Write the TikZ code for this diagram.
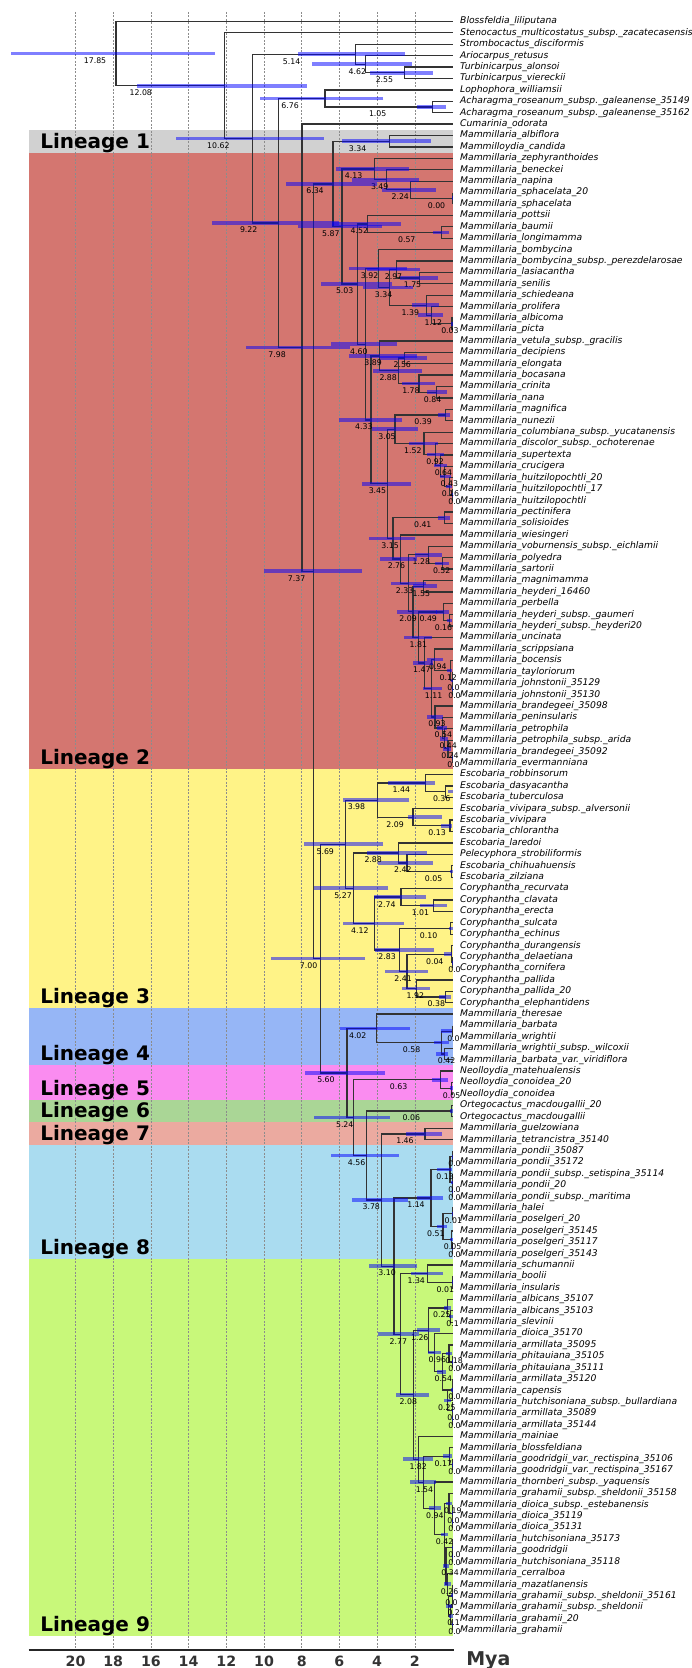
\documentclass[tikz,border=0pt]{standalone}
\usepackage{fontspec}
\setmainfont{DejaVu Sans}[ItalicFont={DejaVu Sans Oblique},BoldFont={DejaVu Sans Bold}]
\usetikzlibrary{calc}
\pgfdeclarelayer{front}
\pgfsetlayers{main,front}
\definecolor{linA}{RGB}{209,209,209}
\definecolor{linB}{RGB}{212,118,112}
\definecolor{linC}{RGB}{255,243,135}
\definecolor{linD}{RGB}{150,182,246}
\definecolor{linE}{RGB}{250,140,240}
\definecolor{linF}{RGB}{170,214,150}
\definecolor{linG}{RGB}{235,170,160}
\definecolor{linH}{RGB}{170,220,240}
\definecolor{linI}{RGB}{200,248,122}
\tikzset{
  branch/.style={draw=black!80, line width=1.3pt},
  hpd/.style={draw=blue, line width=3.6pt, opacity=0.5},
  age/.style={font=\fontsize{7.8}{9}\selectfont, inner sep=0pt, yshift=-7pt},
  tip/.style={anchor=west, inner sep=0pt, xshift=7.5pt, font=\fontsize{9.2}{11}\selectfont\itshape},
  gridline/.style={draw=black!45, line width=0.6pt, dash pattern=on 2pt off 1.5pt},
  lineage/.style={anchor=base west, inner sep=0pt, font=\fontsize{20}{24}\selectfont\bfseries},
  ticklab/.style={anchor=base, inner sep=0pt, text=black!80, font=\fontsize{14.2}{16}\selectfont\bfseries}
}
% name, age, upper child, lower child, hpd young, hpd old, label shift
\newcommand\clade[7]{%
  \coordinate (#1m) at ($(#3)!.5!(#4)$);
  \coordinate (#1) at (#2,0 |- #1m);
  \draw[branch] (#3) -| (#1) (#4) -| (#1);
  \begin{pgfonlayer}{front}
    \draw[hpd] (#5,0 |- #1) -- (#6,0 |- #1);
    \node[age, xshift=#7pt] (#1lab) at (#1) {#2};
  \end{pgfonlayer}}

\begin{document}
\begin{tikzpicture}[x=1pt,y=-1pt]
\useasboundingbox (0,0) rectangle (691,1668);
\begin{scope}[shift={(452.5,10)}, x=-18.85pt, y=-11.41pt]
  \fill[linA] (22.49,10.5) rectangle (-0.03,12.5);
  \fill[linB] (22.49,12.5) rectangle (-0.03,66.5);
  \fill[linC] (22.49,66.5) rectangle (-0.03,87.5);
  \fill[linD] (22.49,87.5) rectangle (-0.03,92.5);
  \fill[linE] (22.49,92.5) rectangle (-0.03,95.5);
  \fill[linF] (22.49,95.5) rectangle (-0.03,97.5);
  \fill[linG] (22.49,97.5) rectangle (-0.03,99.5);
  \fill[linH] (22.49,99.5) rectangle (-0.03,109.5);
  \fill[linI] (22.49,109.5) rectangle (-0.03,142.5);

  \foreach \a in {2,4,...,20} \draw[gridline] (\a,0.17) -- (\a,143.73);
  \draw[line width=2pt, black!85] (22.49,143.73) -- (-0.08,143.73);
  \foreach \a in {2,4,...,20} \node[ticklab] (tick\a) at (\a,145.18) {\a};
  \node[ticklab, anchor=base west, font=\fontsize{19}{22}\selectfont\bfseries] (mya) at (-0.72,145.1) {Mya};

  \foreach \k/\r in {1/12,2/66,3/87,4/92,5/95,6/97,7/99,8/109,9/142}
    \node[lineage] (lin\k) at (21.88,\r+0.1) {Lineage \k};

  \foreach \name [count=\i] in {Blossfeldia\_liliputana,
    Stenocactus\_multicostatus\_subsp.\_zacatecasensis, Strombocactus\_disciformis,
    Ariocarpus\_retusus, Turbinicarpus\_alonsoi, Turbinicarpus\_viereckii,
    Lophophora\_williamsii, Acharagma\_roseanum\_subsp.\_galeanense\_35149,
    Acharagma\_roseanum\_subsp.\_galeanense\_35162, Cumarinia\_odorata,
    Mammillaria\_albiflora, Mammilloydia\_candida, Mammillaria\_zephyranthoides,
    Mammillaria\_beneckei, Mammillaria\_napina, Mammillaria\_sphacelata\_20,
    Mammillaria\_sphacelata, Mammillaria\_pottsii, Mammillaria\_baumii,
    Mammillaria\_longimamma, Mammillaria\_bombycina,
    Mammillaria\_bombycina\_subsp.\_perezdelarosae, Mammillaria\_lasiacantha,
    Mammillaria\_senilis, Mammillaria\_schiedeana, Mammillaria\_prolifera,
    Mammillaria\_albicoma, Mammillaria\_picta, Mammillaria\_vetula\_subsp.\_gracilis,
    Mammillaria\_decipiens, Mammillaria\_elongata, Mammillaria\_bocasana,
    Mammillaria\_crinita, Mammillaria\_nana, Mammillaria\_magnifica,
    Mammillaria\_nunezii, Mammillaria\_columbiana\_subsp.\_yucatanensis,
    Mammillaria\_discolor\_subsp.\_ochoterenae, Mammillaria\_supertexta,
    Mammillaria\_crucigera, Mammillaria\_huitzilopochtli\_20,
    Mammillaria\_huitzilopochtli\_17, Mammillaria\_huitzilopochtli,
    Mammillaria\_pectinifera, Mammillaria\_solisioides, Mammillaria\_wiesingeri,
    Mammillaria\_voburnensis\_subsp.\_eichlamii, Mammillaria\_polyedra,
    Mammillaria\_sartorii, Mammillaria\_magnimamma, Mammillaria\_heyderi\_16460,
    Mammillaria\_perbella, Mammillaria\_heyderi\_subsp.\_gaumeri,
    Mammillaria\_heyderi\_subsp.\_heyderi20, Mammillaria\_uncinata,
    Mammillaria\_scrippsiana, Mammillaria\_bocensis, Mammillaria\_tayloriorum,
    Mammillaria\_johnstonii\_35129, Mammillaria\_johnstonii\_35130,
    Mammillaria\_brandegeei\_35098, Mammillaria\_peninsularis, Mammillaria\_petrophila,
    Mammillaria\_petrophila\_subsp.\_arida, Mammillaria\_brandegeei\_35092,
    Mammillaria\_evermanniana, Escobaria\_robbinsorum, Escobaria\_dasyacantha,
    Escobaria\_tuberculosa, Escobaria\_vivipara\_subsp.\_alversonii, Escobaria\_vivipara,
    Escobaria\_chlorantha, Escobaria\_laredoi, Pelecyphora\_strobiliformis,
    Escobaria\_chihuahuensis, Escobaria\_zilziana, Coryphantha\_recurvata,
    Coryphantha\_clavata, Coryphantha\_erecta, Coryphantha\_sulcata, Coryphantha\_echinus,
    Coryphantha\_durangensis, Coryphantha\_delaetiana, Coryphantha\_cornifera,
    Coryphantha\_pallida, Coryphantha\_pallida\_20, Coryphantha\_elephantidens,
    Mammillaria\_theresae, Mammillaria\_barbata, Mammillaria\_wrightii,
    Mammillaria\_wrightii\_subsp.\_wilcoxii, Mammillaria\_barbata\_var.\_viridiflora,
    Neolloydia\_matehualensis, Neolloydia\_conoidea\_20, Neolloydia\_conoidea,
    Ortegocactus\_macdougallii\_20, Ortegocactus\_macdougallii, Mammillaria\_guelzowiana,
    Mammillaria\_tetrancistra\_35140, Mammillaria\_pondii\_35087, Mammillaria\_pondii\_35172,
    Mammillaria\_pondii\_subsp.\_setispina\_35114, Mammillaria\_pondii\_20,
    Mammillaria\_pondii\_subsp.\_maritima, Mammillaria\_halei, Mammillaria\_poselgeri\_20,
    Mammillaria\_poselgeri\_35145, Mammillaria\_poselgeri\_35117,
    Mammillaria\_poselgeri\_35143, Mammillaria\_schumannii, Mammillaria\_boolii,
    Mammillaria\_insularis, Mammillaria\_albicans\_35107, Mammillaria\_albicans\_35103,
    Mammillaria\_slevinii, Mammillaria\_dioica\_35170, Mammillaria\_armillata\_35095,
    Mammillaria\_phitauiana\_35105, Mammillaria\_phitauiana\_35111,
    Mammillaria\_armillata\_35120, Mammillaria\_capensis,
    Mammillaria\_hutchisoniana\_subsp.\_bullardiana, Mammillaria\_armillata\_35089,
    Mammillaria\_armillata\_35144, Mammillaria\_mainiae, Mammillaria\_blossfeldiana,
    Mammillaria\_goodridgii\_var.\_rectispina\_35106,
    Mammillaria\_goodridgii\_var.\_rectispina\_35167,
    Mammillaria\_thornberi\_subsp.\_yaquensis,
    Mammillaria\_grahamii\_subsp.\_sheldonii\_35158,
    Mammillaria\_dioica\_subsp.\_estebanensis, Mammillaria\_dioica\_35119,
    Mammillaria\_dioica\_35131, Mammillaria\_hutchisoniana\_35173, Mammillaria\_goodridgii,
    Mammillaria\_hutchisoniana\_35118, Mammillaria\_cerralboa, Mammillaria\_mazatlanensis,
    Mammillaria\_grahamii\_subsp.\_sheldonii\_35161,
    Mammillaria\_grahamii\_subsp.\_sheldonii, Mammillaria\_grahamii\_20,
    Mammillaria\_grahamii}
    {\coordinate (t\i) at (0,\i);
     \node[tip] (lab\i) at (t\i) {\name};}

  % outgroups
  \clade{cA}{1.05}{t8}{t9}{0.34}{1.91}{-55}
  \clade{cB}{6.76}{t7}{cA}{3.67}{10.21}{-35}
  \clade{cC}{2.55}{t5}{t6}{1.04}{4.36}{-20}
  \clade{cD}{4.62}{t4}{cC}{2.15}{7.45}{-8}
  \clade{cE}{5.14}{t3}{cD}{2.54}{8.18}{-64}
  \clade{cF}{3.34}{t11}{t12}{1.16}{5.88}{-32}

  % lineage 2
  \clade{m0}{0.00}{t16}{t17}{0}{0.05}{-16}
  \clade{m1}{2.24}{t15}{m0}{0.88}{3.76}{-10}
  \clade{m2}{3.49}{t14}{m1}{1.79}{5.31}{-7}
  \clade{m3}{4.13}{t13}{m2}{2.29}{6.18}{-21}
  \clade{m4}{0.57}{t19}{t20}{0.17}{1.02}{-35}
  \clade{m5}{4.52}{t18}{m4}{2.75}{6.41}{-8}
  \clade{m6}{1.75}{t23}{t24}{0.75}{2.78}{-7}
  \clade{m7}{2.97}{t22}{m6}{1.72}{4.55}{-3}
  \clade{m8}{0.03}{t27}{t28}{0}{0.1}{-2}
  \clade{m9}{1.12}{t26}{m8}{0.49}{1.81}{2}
  \clade{m10}{1.39}{t25}{m9}{0.70}{2.13}{-16}
  \clade{m11}{3.34}{m7}{m10}{2.08}{4.77}{-6}
  \clade{m12}{3.92}{t21}{m11}{2.43}{5.49}{-9}
  \clade{m13}{0.84}{t33}{t34}{0.31}{1.37}{-4}
  \clade{m14}{1.78}{t32}{m13}{0.93}{2.7}{-8}
  \clade{m15}{2.56}{t30}{t31}{1.37}{3.85}{-2}
  \clade{m16}{2.88}{m15}{m14}{1.64}{4.2}{-10}
  \clade{m17}{3.89}{t29}{m16}{1.87}{5.49}{-6}
  \clade{m18}{0.39}{t35}{t36}{0.13}{0.75}{-22}
  \clade{m19}{0.0}{t42}{t43}{0}{0.05}{2}
  \clade{m20}{0.16}{t41}{m19}{0.02}{0.35}{1}
  \clade{m21}{0.43}{t40}{m20}{0.1}{0.66}{5}
  \clade{m22}{0.64}{t39}{m21}{0.31}{0.98}{3}
  \clade{m23}{0.92}{t38}{m22}{0.45}{1.37}{0}
  \clade{m24}{1.52}{t37}{m23}{0.79}{2.29}{-11}
  \clade{m25}{3.05}{m18}{m24}{1.85}{4.25}{-8}
  \clade{m26}{0.41}{t44}{t45}{0.13}{0.75}{-22}
  \clade{m27}{0.52}{t48}{t49}{0.17}{0.93}{-1}
  \clade{m28}{1.28}{t47}{m27}{0.57}{1.99}{-7}
  \clade{m29}{1.55}{t50}{t51}{0.8}{2.08}{-2}
  \clade{m30}{0.16}{t53}{t54}{0.05}{0.3}{-6}
  \clade{m31}{0.49}{t52}{m30}{0.2}{0.9}{-15}
  \clade{m32}{0.0}{t59}{t60}{0}{0.05}{2}
  \clade{m33}{0.0}{t58}{m32}{0}{0.06}{1}
  \clade{m34}{0.12}{t57}{m33}{0.02}{0.3}{-2}
  \clade{m35}{0.94}{t56}{m34}{0.49}{1.37}{3}
  \clade{m36}{0.0}{t65}{t66}{0}{0.05}{1}
  \clade{m37}{0.24}{t64}{m36}{0.1}{0.49}{2}
  \clade{m38}{0.44}{t63}{m37}{0.22}{0.66}{4}
  \clade{m39}{0.54}{t62}{m38}{0.31}{0.84}{1}
  \clade{m40}{0.93}{t61}{m39}{0.49}{1.34}{2}
  \clade{m41}{1.11}{m35}{m40}{0.57}{1.58}{2}
  \clade{m42}{1.47}{t55}{m41}{1.02}{2.08}{-3}
  \clade{m43}{1.81}{m31}{m42}{1.1}{2.57}{0}
  \clade{m44}{2.09}{m29}{m43}{0.8}{2.96}{-5}
  \clade{m45}{2.33}{m28}{m44}{1.42}{3.26}{-4}
  \clade{m46}{2.76}{t46}{m45}{1.87}{3.85}{-4}
  \clade{m47}{3.15}{m26}{m46}{1.99}{4.43}{-3}
  \clade{m48}{3.45}{m25}{m47}{2.2}{4.82}{-10}
  \clade{m49}{4.33}{m17}{m48}{2.7}{6.02}{-7}
  \clade{m50}{4.60}{m12}{m49}{2.96}{6.44}{-7}
  \clade{m51}{5.03}{m5}{m50}{3.19}{7.0}{-13}
  \clade{m52}{5.87}{m3}{m51}{3.76}{8.18}{-11}
  \clade{cG}{6.34}{cF}{m52}{4.02}{8.83}{-18}

  % lineage 3
  \clade{e1}{0.36}{t68}{t69}{0}{0.22}{-4}
  \clade{e2}{1.44}{t67}{e1}{0.93}{3.4}{-24}
  \clade{e3}{0.13}{t71}{t72}{0.02}{0.6}{-13}
  \clade{e4}{2.09}{t70}{e3}{0.57}{2.38}{-18}
  \clade{e5}{3.98}{e2}{e4}{2.29}{5.79}{-21}
  \clade{e6}{0.05}{t75}{t76}{0}{0.15}{-18}
  \clade{e7}{2.42}{t74}{e6}{1.05}{3.97}{-4}
  \clade{e8}{2.88}{t73}{e7}{1.37}{4.55}{-25}
  \clade{e9}{1.01}{t78}{t79}{0.31}{1.73}{-13}
  \clade{e10}{2.74}{t77}{e9}{1.42}{4.14}{-14}
  \clade{e11}{0.10}{t80}{t81}{0}{0.2}{-22}
  \clade{e12}{0.0}{t83}{t84}{0}{0.05}{2}
  \clade{e13}{0.04}{t82}{e12}{0.02}{0.45}{-17}
  \clade{e14}{0.38}{t86}{t87}{0.1}{0.7}{-9}
  \clade{e15}{1.92}{t85}{e14}{1.2}{2.7}{-1}
  \clade{e16}{2.41}{e13}{e15}{1.32}{3.58}{-4}
  \clade{e17}{2.83}{e11}{e16}{0.98}{4.1}{-12}
  \clade{e18}{4.12}{e10}{e17}{2.57}{5.79}{-15}
  \clade{e19}{5.27}{e8}{e18}{3.4}{7.33}{-10}
  \clade{e20}{5.69}{e5}{e19}{3.67}{7.86}{-20}

  % lineages 4 to 8
  \clade{b1}{0.0}{t89}{t90}{0.02}{0.6}{1}
  \clade{b2}{0.42}{t91}{t92}{0.22}{0.88}{2}
  \clade{b3}{0.58}{b1}{b2}{0.2}{1.0}{-30}
  \clade{b4}{4.02}{t88}{b3}{2.25}{5.97}{-19}
  \clade{p1}{0.05}{t94}{t95}{0}{0.15}{0}
  \clade{p2}{0.63}{t93}{p1}{0.22}{1.1}{-42}
  \clade{g1}{0.06}{t96}{t97}{0}{0.15}{-40}
  \clade{s1}{1.46}{t98}{t99}{0.57}{2.46}{-20}
  \clade{k1}{0.0}{t100}{t101}{0}{0.05}{2}
  \clade{k2}{0.0}{t103}{t104}{0}{0.05}{2}
  \clade{k3}{0.0}{t102}{k2}{0}{0.06}{2}
  \clade{k4}{0.13}{k1}{k3}{0.05}{0.84}{-5}
  \clade{k5}{0.01}{t105}{t106}{0}{0.05}{1}
  \clade{k6}{0.0}{t108}{t109}{0}{0.05}{2}
  \clade{k7}{0.05}{t107}{k6}{0}{0.15}{1}
  \clade{k8}{0.51}{k5}{k7}{0.3}{0.8}{-7}
  \clade{k9}{1.14}{k4}{k8}{0.49}{1.87}{-15}

  % lineage 9
  \clade{v1}{0.01}{t111}{t112}{0}{0.05}{-7}
  \clade{v2}{1.34}{t110}{v1}{0.49}{2.2}{-11}
  \clade{v3}{0.1}{t114}{t115}{0}{0.2}{2}
  \clade{v4}{0.25}{t113}{v3}{0.1}{0.45}{-6}
  \clade{v5}{0.0}{t118}{t119}{0}{0.05}{2}
  \clade{v6}{0.18}{t117}{v5}{0.05}{0.35}{5}
  \clade{v7}{0.0}{t123}{t124}{0}{0.05}{2}
  \clade{v8}{0.0}{t122}{v7}{0}{0.05}{1}
  \clade{v9}{0.25}{t121}{v8}{0.1}{0.45}{-1}
  \clade{v10}{0.0}{t120}{v9}{0}{0.1}{2}
  \clade{v11}{0.54}{v6}{v10}{0.35}{0.8}{1}
  \clade{v12}{0.96}{t116}{v11}{0.6}{1.3}{3}
  \clade{v13}{1.26}{v4}{v12}{0.66}{1.87}{-9}
  \clade{v14}{0.0}{t127}{t128}{0}{0.05}{2}
  \clade{v15}{0.17}{t126}{v14}{0.05}{0.49}{-6}
  \clade{v16}{0.0}{t132}{t133}{0}{0.05}{2}
  \clade{v17}{0.0}{t131}{v16}{0}{0.05}{1}
  \clade{v18}{0.19}{t130}{v17}{0.05}{0.35}{4}
  \clade{v19}{0.0}{t135}{t136}{0}{0.05}{2}
  \clade{v20}{0.0}{t134}{v19}{0}{0.05}{2}
  \clade{v21}{0.0}{t141}{t142}{0}{0.05}{2}
  \clade{v22}{0.1}{t140}{v21}{0}{0.2}{3}
  \clade{v23}{0.2}{t139}{v22}{0.05}{0.35}{5}
  \clade{v24}{0.0}{t138}{v23}{0}{0.1}{-1}
  \clade{v25}{0.26}{t137}{v24}{0.1}{0.45}{2}
  \clade{v26}{0.34}{v20}{v25}{0.2}{0.5}{4}
  \clade{v27}{0.42}{v18}{v26}{0.25}{0.6}{0}
  \clade{v28}{0.94}{t129}{v27}{0.6}{1.25}{0}
  \clade{v29}{1.54}{v15}{v28}{0.88}{2.25}{1}
  \clade{v30}{1.82}{t125}{v29}{1.02}{2.61}{0}
  \clade{v31}{2.08}{v13}{v30}{1.23}{2.98}{-5}
  \clade{v32}{2.77}{v2}{v31}{1.8}{3.97}{-2}
  \clade{v33}{3.10}{k9}{v32}{1.87}{4.41}{-7}
  \clade{v34}{3.78}{s1}{v33}{2.34}{5.35}{-10}
  \clade{v35}{4.56}{g1}{v34}{2.84}{6.45}{-10}
  \clade{v36}{5.24}{p2}{v35}{3.32}{7.33}{-9}
  \clade{v37}{5.60}{b4}{v36}{3.58}{7.82}{-21}

  % backbone
  \clade{cH}{7.00}{e20}{v37}{4.64}{9.63}{-12}
  \clade{cI}{7.37}{cG}{cH}{4.82}{9.98}{-17}
  \clade{cJ}{7.98}{t10}{cI}{5.44}{10.95}{-25}
  \clade{cK}{9.22}{cB}{cJ}{6.0}{12.74}{-30}
  \clade{cL}{10.62}{cE}{cK}{6.82}{14.65}{-34}
  \clade{cM}{12.08}{t2}{cL}{7.72}{16.76}{-84}
  \clade{root}{17.85}{t1}{cM}{12.62}{23.42}{-21}
\end{scope}
\end{tikzpicture}
\end{document}
